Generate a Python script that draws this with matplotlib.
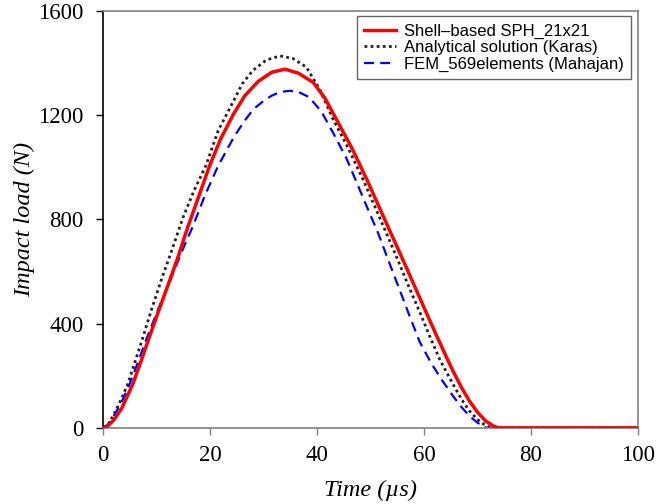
import matplotlib
matplotlib.use("Agg")
import matplotlib.pyplot as plt

# Shell-based SPH 21x21
t_sph = [0, 0.5, 2, 3.5, 5.6, 7, 8.7, 10.5, 12.5, 14, 15.9, 18, 19.9, 22, 24.4, 26.5, 29,
         31.5, 34, 36.5, 39.3, 41.5, 43.6, 46.5, 49.3, 52, 54.3, 56.5, 58, 60, 62, 64,
         65.5, 67, 68.5, 70, 71.5, 73, 74, 80, 100]
n_sph = [0, 0, 30, 75, 170, 250, 351, 455, 568, 655, 774, 895, 1005, 1110, 1205, 1275, 1330,
         1365, 1377, 1362, 1326, 1265, 1185, 1075, 954, 830, 725, 625, 555, 462, 370, 280,
         215, 155, 103, 60, 27, 7, 0, 0, 0]

# Analytical solution (Karas)
t_ana = [0, 1, 2, 3.3, 4.7, 6, 7.5, 9, 10.9, 13, 15, 17, 19.3, 21.5, 24.4, 26, 28, 30.5,
         33.1, 35.5, 38, 40.5, 43, 45.8, 48.6, 50.7, 52.7, 55, 57.1, 59.2, 61, 63, 65.5,
         67, 68.5, 70, 71.3, 72.5, 100]
n_ana = [0, 15, 50, 105, 171, 255, 350, 450, 568, 690, 810, 910, 1010, 1140, 1255, 1320,
         1372, 1412, 1428, 1418, 1385, 1300, 1185, 1075, 954, 855, 760, 650, 545, 445, 355,
         260, 165, 110, 65, 32, 12, 0, 0]

# FEM 569 elements (Mahajan)
t_fem = [0, 1, 2, 3.5, 5, 6.5, 8, 10.3, 12.6, 14.7, 16.8, 19, 21.5, 24.5, 26.5, 28.1, 30,
         31.5, 33.2, 35, 36.8, 38.5, 40.8, 43, 45.5, 47.7, 49.5, 51.4, 53.3, 55.2, 57.2,
         59.2, 61.3, 63.3, 65.5, 67, 68.5, 70, 71.7, 100]
n_fem = [0, 14, 45, 100, 170, 250, 335, 455, 568, 675, 774, 890, 1005, 1118, 1180, 1223, 1255,
         1275, 1290, 1294, 1287, 1270, 1215, 1133, 1035, 928, 840, 749, 645, 543, 435,
         330, 250, 185, 120, 80, 45, 20, 0, 0]

x_ticks = [0, 20, 40, 60, 80, 100]
y_ticks = [0, 400, 800, 1200, 1600]

fig = plt.figure(figsize=(6.56, 5.04), dpi=100)
ax = fig.add_axes([0.157, 0.151, 0.8156, 0.827])

ax.plot(t_sph, n_sph, color="#ff0000", lw=2.5, label="Shell\u2013based SPH_21x21", zorder=3)
ax.plot(t_ana, n_ana, color="#222222", lw=2.0, dashes=(1, 1.2),
        label="Analytical solution (Karas)", zorder=2)
ax.plot(t_fem, n_fem, color="#0000ff", lw=1.6, dashes=(4.5, 2.8),
        label="FEM_569elements (Mahajan)", zorder=2)

ax.set_xlim(0, 100)
ax.set_ylim(0, 1600)
ax.set_xticks(x_ticks)
ax.set_yticks(y_ticks)

serif = ["Liberation Serif", "DejaVu Serif"]
for lab in ax.get_xticklabels() + ax.get_yticklabels():
    lab.set_fontfamily(serif)
    lab.set_fontsize(16.5)

ax.tick_params(axis="both", direction="out", length=5, width=1, colors="#808080",
               labelcolor="black", pad=7)
ax.tick_params(axis="y", colors="black", labelcolor="black", pad=9)

for side in ["top", "right", "bottom"]:
    ax.spines[side].set_color("#808080")
    ax.spines[side].set_linewidth(1.2)
ax.spines["left"].set_color("black")
ax.spines["left"].set_linewidth(1.2)

ax.set_xlabel("Time (\u00b5s)", fontfamily=serif, fontstyle="italic", fontsize=17.5, labelpad=10)
ax.set_ylabel("Impact load (N)", fontfamily=serif, fontstyle="italic", fontsize=17.5, labelpad=2)

leg = ax.legend(loc="upper right", bbox_to_anchor=(0.993, 0.996),
                prop={"family": "Liberation Sans", "size": 12},
                frameon=True, fancybox=False, handlelength=1.9, handletextpad=0.45,
                borderpad=0.45, labelspacing=0.08, borderaxespad=0.2)
leg.get_frame().set_edgecolor("#404040")
leg.get_frame().set_linewidth(1.0)

fig.savefig("out.png", dpi=100)
